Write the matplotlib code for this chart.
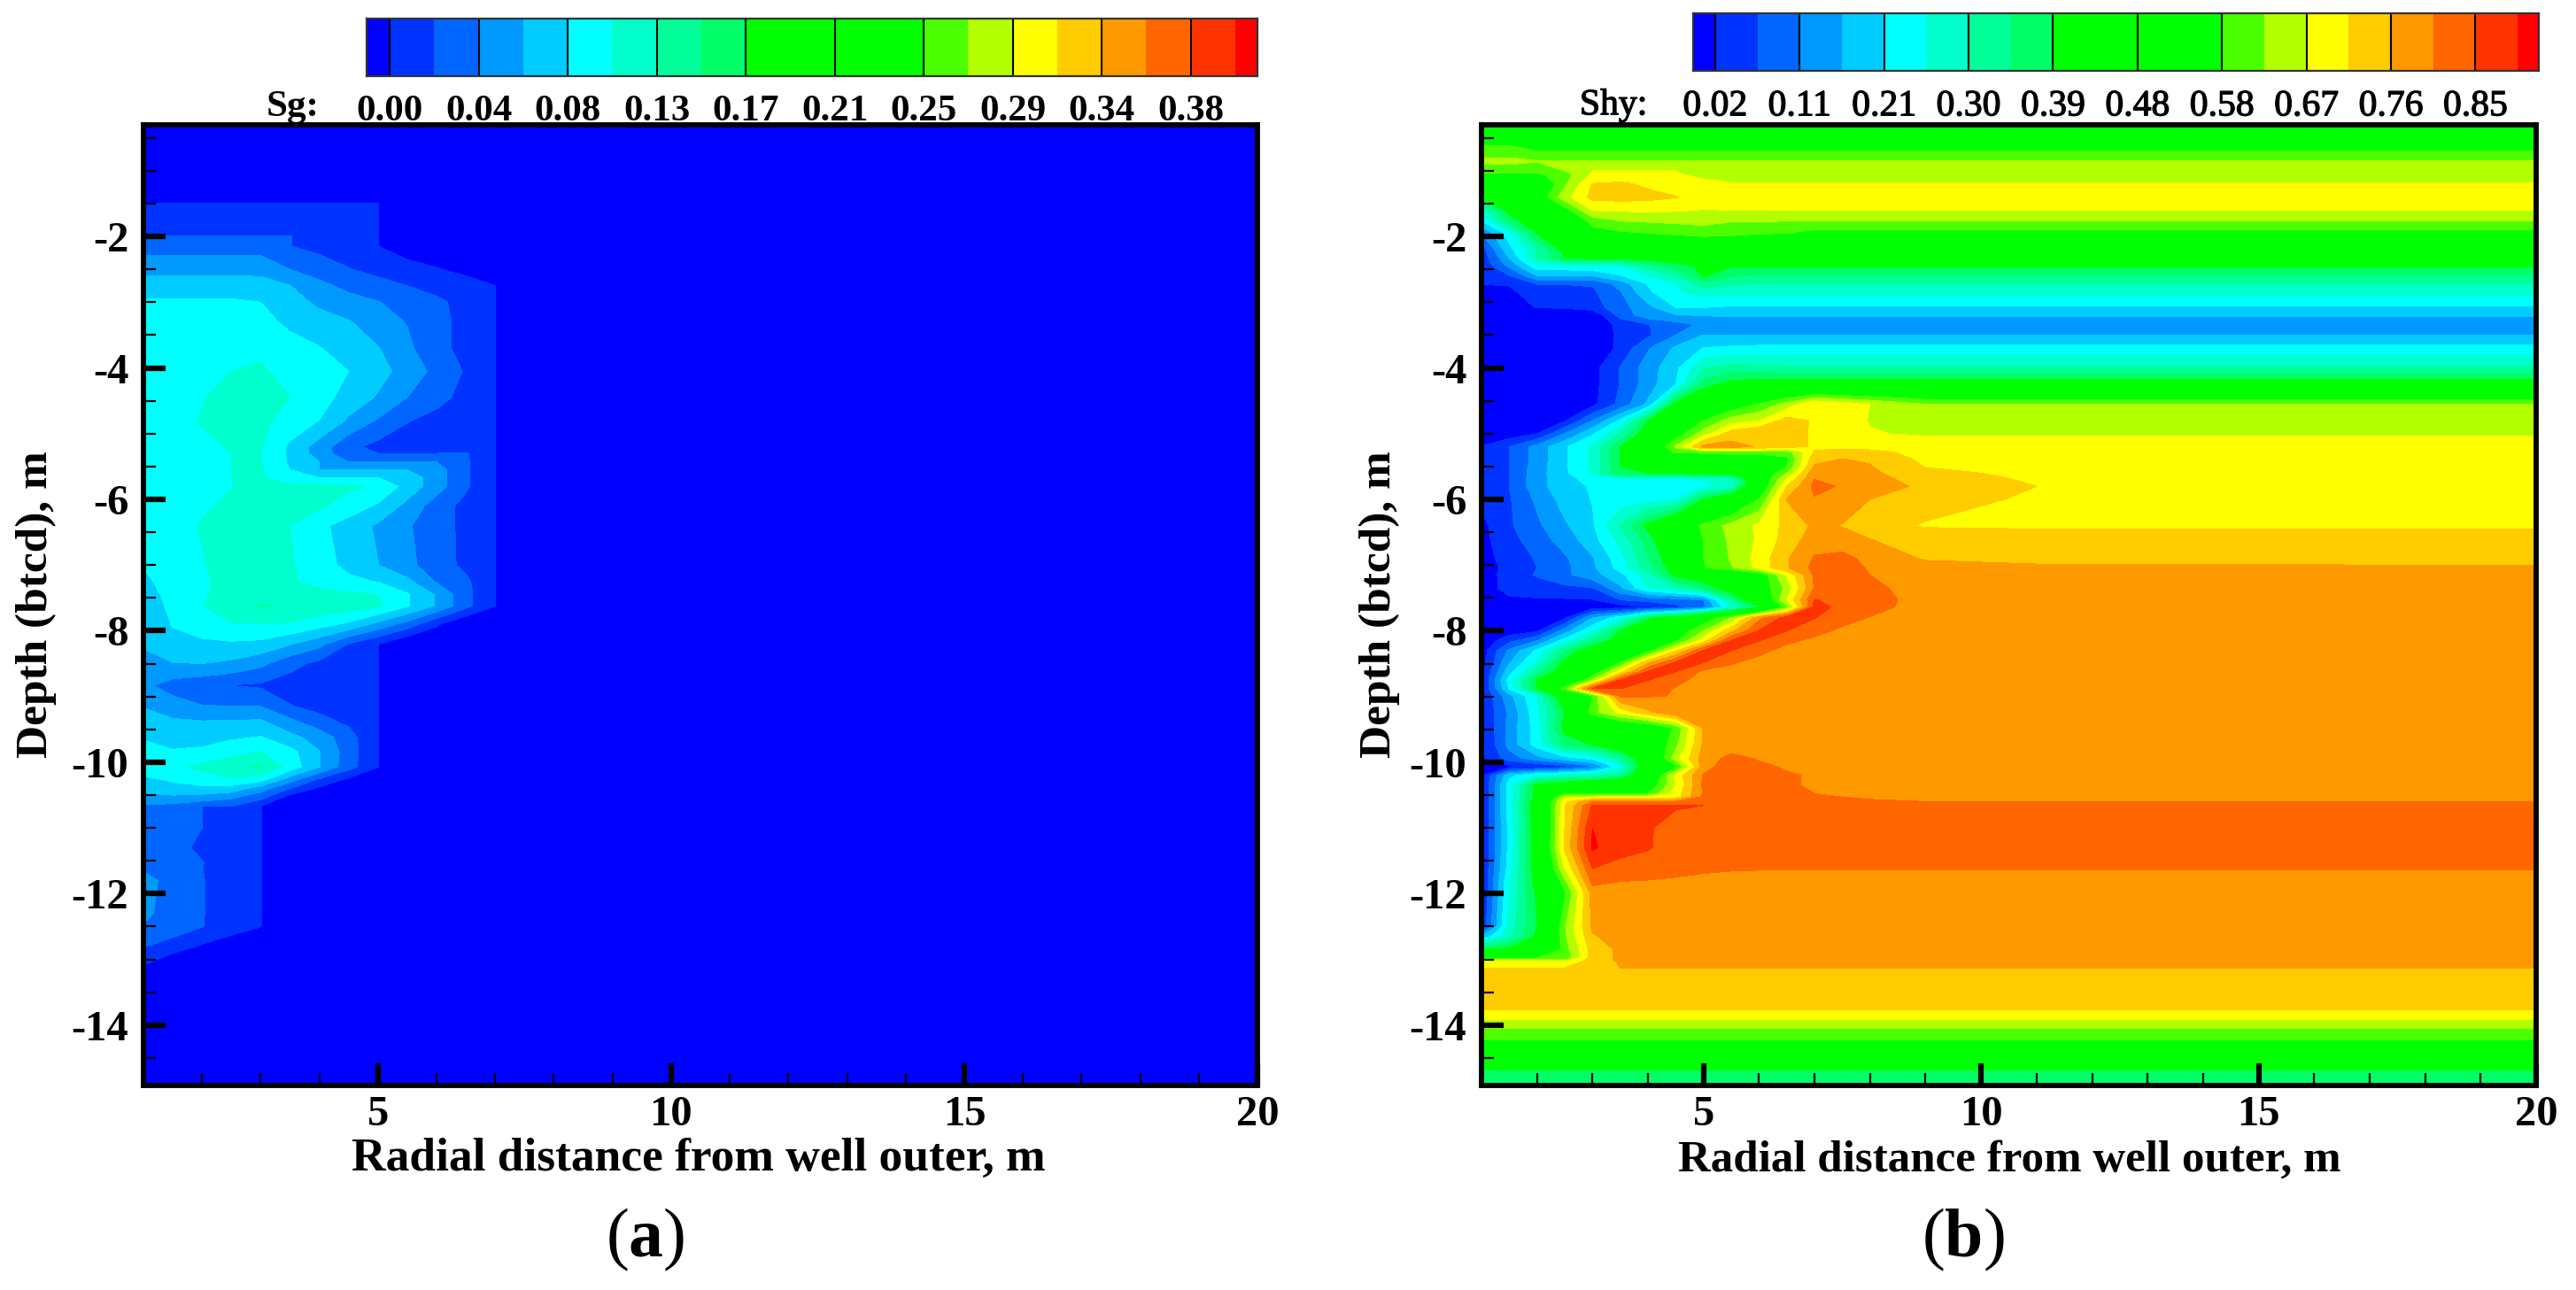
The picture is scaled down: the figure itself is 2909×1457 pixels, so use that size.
import matplotlib
matplotlib.use("Agg")
import matplotlib.pyplot as plt
import matplotlib.patheffects as pe
import numpy as np

plt.rcParams['font.family'] = ['Liberation Serif', 'DejaVu Serif']
plt.rcParams['axes.unicode_minus'] = False
plt.rcParams['mathtext.fontset'] = 'custom'
plt.rcParams['mathtext.rm'] = 'Liberation Serif'
plt.rcParams['mathtext.bf'] = 'Liberation Serif:bold'

W, H = 2909, 1457

# contour band colours, one per interval between neighbouring levels
band_colors = ['#0000ff', '#0033ff', '#0066ff', '#0099ff', '#00ccff', '#00ffff', '#00ffcc',
               '#00ff99', '#00ff66', '#00ff00', '#00ff00', '#00ff00', '#00ff00', '#4cff00',
               '#b3ff00', '#ffff00', '#ffcc00', '#ff9900', '#ff6600', '#ff3300', '#ff0000']

sg_labels = ['0.00', '0.04', '0.08', '0.13', '0.17', '0.21', '0.25', '0.29', '0.34', '0.38']
shy_labels = ['0.02', '0.11', '0.21', '0.30', '0.39', '0.48', '0.58', '0.67', '0.76', '0.85']
SG_START, SG_STEP = 0.0, 0.02105
SHY_START, SHY_STEP = 0.02, 0.0465

# Node values below are read from the contours, in contour-level numbers
# (level n = START + n * STEP). A short row repeats its last value to the far column.
sg_x = [1, 1.5, 2, 2.5, 3, 3.5, 4, 4.5, 5, 5.5, 6, 6.5, 7, 7.5, 20]
sg_depth = [-0.2, -1.0, -1.5, -2.0, -2.15, -2.5, -2.75, -3.0, -3.3, -3.7, -4.05, -4.45, -4.8, -5.2, -5.3,
            -5.43, -5.55, -5.67, -5.8, -6.1, -6.4, -7.0, -7.25, -7.45, -7.62, -7.9, -8.2, -8.5, -8.83,
            -9.15, -9.35, -9.62, -9.85, -10.07, -10.25, -10.4, -10.57, -10.67, -11.0, -11.3, -11.52,
            -11.66, -11.81, -12.3, -12.5, -12.82, -13.1, -13.5, -15.0]
sg_rows = [
    [-1], [-1],
    [.02, .02, .02, .02, .02, .02, .02, .02, .02, -1],
    [1.02, 1.02, 1.02, 1.02, 1.02, 1.02, .7, .4, .02, -1],
    [1.55, 1.55, 1.55, 1.55, 1.55, 1.02, .7, .35, .02, -.6, -1],
    [2.7, 2.7, 2.7, 2.7, 2.7, 2.0, 1.57, 1.05, .65, .44, .1, -.4, -1],
    [3.47, 3.47, 3.47, 3.47, 3.4, 3.02, 2.25, 1.75, 1.4, 1.0, .75, .6, .02, -1],
    [4.15, 4.15, 4.15, 4.15, 4.0, 3.4, 2.8, 2.35, 2.05, 1.55, 1.15, .75, .02, -1],
    [4.4, 4.4, 4.45, 4.45, 4.3, 3.8, 3.4, 3.07, 2.45, 1.95, 1.3, .7, .02, -1],
    [4.6, 4.7, 4.85, 4.95, 4.85, 4.35, 4.05, 3.5, 3.05, 2.2, 1.3, .7, .02, -1],
    [4.7, 4.8, 4.9, 5.0, 5.1, 4.75, 4.3, 4.0, 3.35, 2.6, 1.7, .9, .02, -1],
    [4.7, 4.8, 4.95, 5.3, 5.4, 5.0, 4.4, 3.6, 2.9, 2.0, 1.3, .7, .02, -1],
    [4.7, 4.8, 5.05, 5.3, 5.2, 4.7, 3.98, 2.85, 1.9, 1.05, .7, .4, .02, -1],
    [4.6, 4.7, 4.85, 5.05, 5.05, 3.8, 2.55, 1.25, .7, .5, .4, .3, .02, -1],
    [4.6, 4.7, 4.85, 5.0, 5.05, 3.8, 2.55, 1.3, 1.0, 1.0, 1.0, 1.1, .02, -1],
    [4.6, 4.7, 4.85, 5.0, 5.03, 3.85, 3.0, 2.0, 2.0, 2.0, 2.0, 1.15, .02, -1],
    [4.6, 4.7, 4.85, 5.0, 5.1, 4.0, 3.0, 3.0, 3.0, 3.0, 2.45, 1.15, .02, -1],
    [4.6, 4.7, 4.85, 5.0, 5.15, 4.1, 4.0, 4.0, 4.0, 3.6, 2.45, 1.15, .02, -1],
    [4.65, 4.75, 4.8, 4.97, 5.3, 5.4, 5.3, 5.15, 4.9, 3.6, 2.45, 1.15, .02, -1],
    [4.6, 4.7, 4.9, 5.15, 5.4, 5.4, 5.15, 4.6, 3.85, 2.7, 1.5, .7, .02, -1],
    [4.6, 4.75, 5.05, 5.4, 5.5, 5.0, 4.25, 3.55, 2.85, 2.1, 1.5, .7, .02, -1],
    [4.05, 4.5, 4.95, 5.3, 5.5, 5.1, 4.45, 3.7, 3.02, 2.25, 1.5, .75, .02, -1],
    [3.8, 4.4, 4.85, 5.3, 5.6, 5.15, 4.6, 4.25, 3.95, 3.25, 1.9, 1.2, .02, -1],
    [3.6, 4.3, 4.9, 5.4, 5.7, 5.5, 5.35, 5.2, 5.0, 4.1, 2.9, 1.3, .02, -1],
    [3.5, 4.2, 4.95, 5.6, 6.05, 5.9, 5.7, 5.5, 5.15, 4.1, 2.9, 1.3, .02, -1],
    [3.3, 4.05, 4.5, 4.95, 4.95, 4.9, 4.4, 3.8, 2.7, 1.6, .15, -1],
    [3.1, 3.75, 3.8, 3.85, 3.75, 3.1, 2.3, .95, .02, -1],
    [2.7, 2.95, 3.0, 2.8, 2.25, 1.3, .75, .4, .02, -1],
    [2.2, 1.6, 1.3, .98, .85, .6, .4, .2, .02, -1],
    [2.95, 2.4, 2.05, 2.0, 2.0, 1.05, .7, .4, .02, -1],
    [3.35, 3.05, 2.95, 2.95, 3.0, 2.1, 1.25, .7, .02, -1],
    [3.9, 3.6, 3.65, 3.85, 4.05, 3.3, 2.55, 1.4, .02, -1],
    [4.4, 4.1, 4.2, 4.65, 5.05, 4.35, 3.05, 1.5, .02, -1],
    [4.5, 4.75, 5.25, 5.75, 6.1, 4.6, 3.05, 1.4, .02, -1],
    [3.85, 4.2, 4.65, 4.95, 4.6, 2.65, 1.0, -.1, -1],
    [3.4, 3.6, 3.75, 3.6, 2.5, 1.0, -.2, -1],
    [2.4, 2.6, 2.3, 1.85, 1.0, -.8, -1],
    [1.9, 1.6, 1.0, 1.0, .02, -1],
    [1.7, 1.3, 1.0, .6, .02, -1],
    [1.8, 1.4, .75, .4, .02, -1],
    [1.9, 1.5, 1.03, .5, .02, -1],
    [2.0, 1.5, 1.02, .5, .02, -1],
    [2.3, 1.7, 1.05, .5, .02, -1],
    [2.2, 1.6, 1.05, .5, .02, -1],
    [1.95, 1.6, 1.03, .5, .02, -1],
    [1.0, .45, -.2, -.7, -1],
    [-.05, -1],
    [-1], [-1],
]

shy_x = [1, 1.5, 2, 2.5, 3, 3.5, 4, 4.5, 5, 5.5, 6, 6.5, 7, 7.5, 8, 9, 11, 20]
shy_depth = [-0.2, -0.7, -0.85, -1.0, -1.05, -1.2, -1.4, -1.6, -1.75, -1.95, -2.2, -2.33, -2.45, -2.6, -2.72,
             -2.85, -3.08, -3.2, -3.34, -3.5, -3.7, -4.0, -4.25, -4.55, -4.8, -5.0, -5.2, -5.28, -5.38, -5.5,
             -5.6, -5.68, -5.8, -6.0, -6.4, -6.6, -6.9, -7.04, -7.15, -7.35, -7.53, -7.64, -7.8, -8.0, -8.15,
             -8.3, -8.48, -8.62, -8.75, -8.88, -8.99, -9.24, -9.48, -9.73, -9.94, -10.07, -10.2, -10.35, -10.48,
             -10.53, -10.6, -10.66, -11.0, -11.3, -11.62, -11.88, -12.0, -12.5, -12.65, -12.85, -12.98, -13.03,
             -13.13, -13.77, -13.92, -14.05, -14.22, -14.69, -15.0]
shy_rows = [
    [10],
    [12.4, 12.4, 12],
    [13.3, 13.3, 13.05],
    [12.5, 12.5, 12.5, 13, 14, 14.05, 14.05, 14, 13.6, 13.5],
    [11.8, 11.8, 11.8, 12.6, 14.1, 14.2, 14.2, 14.05, 13.8, 13.65],
    [10, 9.5, 10.5, 12.8, 15.05, 15.2, 14.8, 14.5, 14.2, 14.05],
    [8.2, 9, 11, 13.6, 15.3, 15.4, 15.3, 15.05, 14.7, 14.4],
    [5.3, 8.5, 9.5, 11.5, 14.05, 14.1, 14.2, 14.1, 13.95, 14.0],
    [4.1, 7.5, 9, 10.5, 12.5, 13.1, 13.2, 13.3, 13.4, 13.1],
    [2, 4.5, 8.1, 9.5, 11.5, 11.8, 12, 12.2, 12.4, 12.3, 12.1, 12, 11.6],
    [.5, 3.7, 6, 8.5, 9.5, 9.8, 10, 10.2, 10.4, 10.3, 10],
    [.3, 3, 6, 8, 8.2, 8.2, 8.6, 8.8, 9, 9],
    [.2, 2.2, 4.6, 4.7, 4.8, 4.9, 6.5, 7.5, 8.3, 8.1],
    [.05, .9, 2.9, 2.9, 3, 3.9, 4.9, 6, 8.1, 7.1, 6.9],
    [.05, .05, 1.05, 1.05, 1.1, 2.4, 4.1, 5, 6.6, 6.1, 6],
    [-.9, -.15, .35, .5, .8, 1.9, 3.8, 4.85, 5.4, 5.25],
    [-1, -.5, .05, .1, .5, 1.6, 2.7, 4, 4, 3.85],
    [-1, -1, -.9, -.9, -.9, 1.35, 2.6, 2.9, 3.03, 3.1],
    [-1, -1, -1, -1, -1, .35, .95, 1.6, 2.2, 2.5],
    [-1, -1, -1, -1, -1, .3, .85, 2, 3.03, 3],
    [-1, -1, -1, -1, -1, .3, 1.9, 3.2, 4.05, 4.2, 4.3],
    [-1, -1, -1, -1, -.35, 1.05, 2.5, 3.75, 5.9, 6.4, 6.3, 6.2],
    [-1, -1, -1, -1, -.35, 1.05, 2.5, 4, 7.5, 8.5, 8.8],
    [-1, -1, -1, -1, -.3, 1.3, 3.2, 8.5, 10, 11, 12.1, 13.4, 15, 14.5, 14, 13],
    [-1, -1, -.8, -.1, 2, 4.2, 8, 10, 12, 13.5, 14, 15.4, 14.9, 14.4, 13.95, 13.5],
    [-.8, -.6, 0, 2, 3.85, 6, 9, 11.3, 13.5, 15.5, 15.95, 15.3, 14.9, 14.5, 14.05, 13.9],
    [.05, 1, 2.4, 3.85, 5.2, 8, 10, 13.2, 16.4, 16.4, 15.9, 15.3, 14.9, 14.8, 14.6, 14.5],
    [.2, 1, 2.4, 3.85, 5.2, 8, 10, 12.2, 12.4, 12.6, 12.6, 12.5, 15.05, 15.3, 15.3, 14.6, 14.5],
    [.3, 1, 2.4, 3.85, 5.2, 8, 9, 10, 10.5, 11, 11, 11.8, 15.7, 16, 15.9, 14.7, 14.5],
    [.5, 1, 2.5, 3.85, 5.2, 8, 8.5, 9, 9.5, 10, 10.5, 12, 16.1, 16.5, 16.05, 14.95, 14.6, 14.5],
    [.5, 1, 2.55, 3.8, 5.2, 7.8, 8, 8.3, 8.5, 9, 10.5, 13, 16.8, 16.6, 16.2, 15.3, 14.7, 14.5],
    [.5, 1, 2.6, 3.7, 4.4, 4.9, 4.9, 5, 5.1, 5.4, 10.5, 14, 16.95, 16.7, 16.3, 15.6, 14.8, 14.5],
    [.5, 1, 2.6, 3.65, 4.1, 4.2, 4.3, 4.5, 4.75, 5.3, 10.5, 15, 17.3, 16.9, 16.35, 15.85, 15, 14.5],
    [.3, .9, 2.2, 3.4, 4.05, 4.35, 4.6, 4.95, 8, 10, 12, 16.05, 16.9, 16.6, 16, 15.5, 14.8, 14.7],
    [-.3, .85, 1.8, 2.85, 3.85, 6.1, 8.4, 10.4, 12.3, 13.35, 14.2, 15.3, 16.2, 15.95, 15.4, 14.9],
    [-.3, .65, 1.55, 2.45, 3.65, 5.35, 7.5, 9.8, 12.05, 13.2, 14.15, 15.4, 16.5, 16.4, 16, 15.6, 15.3, 15.25],
    [-.4, .4, 1.1, 1.85, 2.9, 4.6, 6.9, 9.2, 12, 13.1, 14.4, 15.9, 17.1, 17.3, 16.7, 15.9, 15.85],
    [-.5, .3, 1, 1.75, 2.8, 4.4, 6.6, 8.7, 11.9, 12.9, 14.3, 15.9, 17.3, 17.4, 16.9, 16.4, 16.1, 16.05],
    [-.4, .3, 1.1, 1.8, 2.6, 3.7, 5.5, 8.4, 9, 10, 11, 14.1, 17.2, 17.5, 17, 16.4, 16.1],
    [-.3, .2, .5, .75, .95, 2.8, 5, 5.8, 7.2, 9, 11, 13.3, 17.1, 17.6, 17.2, 16.6, 16.2, 16.1],
    [-.1, -.1, -.1, -.1, -.05, 1, 1.3, 1.6, 2, 6.5, 10, 14, 18.05, 17.7, 17.3, 16.7, 16.2, 16.1],
    [-.5, -.5, -.5, -.5, -.5, -.5, .1, .7, 1.8, 5, 7.8, 12.5, 18.4, 17.7, 17.4, 16.5, 16.1],
    [-1, -1, -.5, -.2, 2.95, 4.6, 7.7, 9, 11, 13, 16.7, 18.4, 18.05, 17.4, 16.95, 16.4, 16.1],
    [-1, -.6, -.2, 2.5, 4.85, 8, 9.5, 11, 13, 15.7, 18.05, 18.02, 17.3, 16.8, 16.4, 16.3, 16.1],
    [-.8, .7, 2, 4.5, 6.8, 8.8, 10.2, 11.8, 14.5, 18.05, 18.02, 17.2, 16.8, 16.55, 16.35, 16.25, 16.1],
    [-.6, 2.2, 4.2, 7, 9, 9.8, 11.5, 14.8, 18.05, 18.02, 17.25, 16.7, 16.55, 16.4, 16.3, 16.2, 16.1],
    [-.5, 2.9, 5.1, 8.4, 10, 12, 15.8, 18.05, 18.02, 17.1, 16.7, 16.6, 16.5, 16.4, 16.3, 16.2, 16.1],
    [-.3, 3.6, 6.5, 9, 11, 14.5, 18.05, 18.02, 16.8, 16.7, 16.6, 16.5, 16.45, 16.4, 16.3, 16.2, 16.1],
    [-.2, 4.4, 8.1, 9.5, 13.2, 18.05, 18.02, 17.2, 16.75, 16.6, 16.5, 16.45, 16.4, 16.35, 16.3, 16.2, 16.1],
    [-.2, 4.1, 8, 12.6, 18.1, 18.02, 17.4, 16.95, 16.5, 16.5, 16.4, 16.4, 16.4, 16.3, 16.3, 16.2, 16.1],
    [-.1, 2.7, 5, 9.5, 12, 17.2, 17.1, 16.95, 16.5, 16.4, 16.4, 16.4, 16.4, 16.3, 16.3, 16.2, 16.1],
    [-.1, 2.2, 4.7, 8, 12.6, 14.3, 15.8, 16.9, 16.5, 16.4, 16.4, 16.4, 16.4, 16.3, 16.3, 16.2, 16.1],
    [-.2, 2.35, 4.5, 8.5, 9, 10, 10.5, 12.2, 16.1, 16.2, 16.3, 16.3, 16.3, 16.3, 16.3, 16.2, 16.1],
    [-.3, 2.35, 4.5, 7.2, 8.1, 9.5, 10.5, 12.7, 16.2, 16.4, 16.5, 16.4, 16.4, 16.3, 16.3, 16.3, 16.2],
    [-.2, 1.5, 2.6, 3.6, 4.3, 6.3, 9.7, 13.6, 16.5, 17.3, 16.9, 16.7, 16.5, 16.4, 16.4, 16.4, 16.3],
    [-.4, -.2, .05, .6, 1.85, 4.6, 9.8, 11.6, 16.6, 17.6, 17.2, 16.9, 16.7, 16.6, 16.5, 16.5, 16.4],
    [-.3, 3.7, 5, 5.5, 5.8, 6.6, 10, 14.3, 17.1, 17.7, 17.3, 17.1, 16.9, 16.7, 16.6, 16.5],
    [-.3, 4.5, 8.5, 9.2, 10, 10.5, 11, 14, 17.2, 17.5, 17.3, 17.1, 16.9, 16.8, 16.7, 16.6],
    [-.3, 4.5, 8.5, 11.8, 11.9, 11.9, 12, 14.5, 17.1, 17.4, 17.3, 17.2, 17.0, 16.9, 16.8],
    [-.3, 4.5, 8.5, 13.8, 14.1, 14.2, 14.3, 14.5, 17.3, 17.4, 17.3, 17.2, 17.1, 17, 16.95, 16.9],
    [-.3, 4.5, 9, 14.7, 17, 17.1, 17.1, 17.1, 17.3, 17.3, 17.3, 17.2, 17.1, 17.1, 17.05, 17],
    [-.3, 4.5, 9, 14.9, 18.1, 18.2, 18.2, 18.1, 18, 17.4, 17.2, 17.1],
    [-.3, 4.3, 9, 15, 19, 18.3, 18.1, 17.6, 17.4, 17.3, 17.2],
    [-.3, 4.3, 9, 15.2, 19.15, 18.4, 18.1, 17.5, 17.3, 17.2],
    [-.2, 4.5, 8.8, 14, 18, 17.6, 17.4, 17.2, 17.1, 17.05, 17.03, 17.02],
    [-.2, 5, 8.5, 12.3, 17, 16.8, 16.8, 16.8, 16.75, 16.7],
    [-.2, 5, 8.2, 11.8, 16.4, 16.7],
    [.1, 5.4, 8, 12.9, 16.2, 16.5],
    [3, 5.8, 8.3, 12.8, 15.9, 16.4],
    [8, 8.3, 9, 12.5, 15.4, 16.2, 16.2, 16.2, 16.2, 16.15],
    [12, 12, 12, 12.1, 15.6, 16.15],
    [14, 14, 14, 14, 15.5, 16.1],
    [15.02, 15.02, 15.02, 15.02, 16, 16],
    [15], [14], [13], [12], [8], [7.1],
]

x_major = [5, 10, 15, 20]
x_labels = ['5', '10', '15', '20']
x_minor = [2, 3, 4, 6, 7, 8, 9, 11, 12, 13, 14, 16, 17, 18, 19]
y_major = [-2, -4, -6, -8, -10, -12, -14]
y_labels = ['-2', '-4', '-6', '-8', '-10', '-12', '-14']
y_minor = [-0.5, -1, -1.5, -2.5, -3, -3.5, -4.5, -5, -5.5, -6.5, -7, -7.5, -8.5, -9, -9.5,
           -10.5, -11, -11.5, -12.5, -13, -13.5, -14.5]


def grid(rows, n):
    return np.array([r + [r[-1]] * (n - len(r)) for r in rows], dtype=float)


def axes_px(fig, left, top, right, bottom):
    return fig.add_axes([left / W, 1 - bottom / H, (right - left) / W, (bottom - top) / H])


def txt(fig, x, y, s, **kw):
    fig.text(x / W, 1 - y / H, s, ha=kw.pop('ha', 'center'), va=kw.pop('va', 'center'), **kw)


fig = plt.figure(figsize=(W / 100, H / 100), dpi=100, facecolor='white')
heavy = [pe.withStroke(linewidth=0.9, foreground='black')]


def panel(box, xs, ds, rows, start, step, weight):
    ax = axes_px(fig, *box)
    z = start + step * grid(rows, len(xs))
    levels = [start + step * n for n in [-5] + list(range(0, 20)) + [25]]
    ax.contourf(xs, ds, z, levels=levels, colors=band_colors, antialiased=False)
    ax.set_xlim(1, 20)
    ax.set_ylim(-14.92, -0.3)
    ax.set_xticks(x_major, x_labels)
    ax.set_xticks(x_minor, minor=True)
    ax.set_yticks(y_major, y_labels)
    ax.set_yticks(y_minor, minor=True)
    ax.tick_params(which='major', direction='in', length=18, width=4.5, labelsize=35)
    ax.tick_params(which='minor', direction='in', length=10, width=1.6)
    ax.tick_params(axis='x', which='major', pad=8)
    ax.tick_params(axis='y', which='major', pad=12)
    for lab in ax.get_xticklabels() + ax.get_yticklabels():
        lab.set_fontweight(weight)
    for s in ax.spines.values():
        s.set_linewidth(4.2)
    return ax


def legend(box, labels, weight, size, effects=None):
    ax = axes_px(fig, *box)
    edges = [-0.52] + list(range(0, 20)) + [19.5]
    for i, c in enumerate(band_colors):
        ax.axvspan(edges[i], edges[i + 1], color=c, lw=0)
    ax.set_xlim(-0.52, 19.5)
    ax.set_ylim(0, 1)
    ticks = list(range(0, 20, 2))
    ax.vlines(ticks, 0, 1, color='black', lw=1.5)
    ax.set_yticks([])
    ax.set_xticks(ticks, labels)
    ax.tick_params(axis='x', length=0, pad=15, labelsize=size)
    for lab in ax.get_xticklabels():
        lab.set_fontweight(weight)
        if effects:
            lab.set_path_effects(effects)
    for s in ax.spines.values():
        s.set_linewidth(1.6)
        s.set_color('#333333')
    return ax


panel((162, 141, 1420, 1226), sg_x, sg_depth, sg_rows, SG_START, SG_STEP, 'bold')
panel((1673, 141, 2864, 1226), shy_x, shy_depth, shy_rows, SHY_START, SHY_STEP, 'bold')

legend((414, 21, 1420, 86), sg_labels, 'bold', 31)
legend((1912, 15, 2867, 80), shy_labels, 'normal', 30, heavy)

txt(fig, 331, 121, 'Sg:', fontsize=31, fontweight='bold')
txt(fig, 1822, 119, 'Shy:', fontsize=30, path_effects=heavy)

txt(fig, 789, 1309, 'Radial distance from well outer, m', fontsize=38.5, fontweight='bold')
txt(fig, 2269, 1311, 'Radial distance from well outer, m', fontsize=36.7, fontweight='bold')
txt(fig, 41, 683, 'Depth (btcd), m', fontsize=37, fontweight='bold', rotation=90)
txt(fig, 1558, 683, 'Depth (btcd), m', fontsize=37, fontweight='bold', rotation=90)

txt(fig, 729, 1400, r'($\mathbf{a}$)', fontsize=56)
txt(fig, 2217, 1400, r'($\mathbf{b}$)', fontsize=56)

fig.savefig('out.png', dpi=100, facecolor='white')
